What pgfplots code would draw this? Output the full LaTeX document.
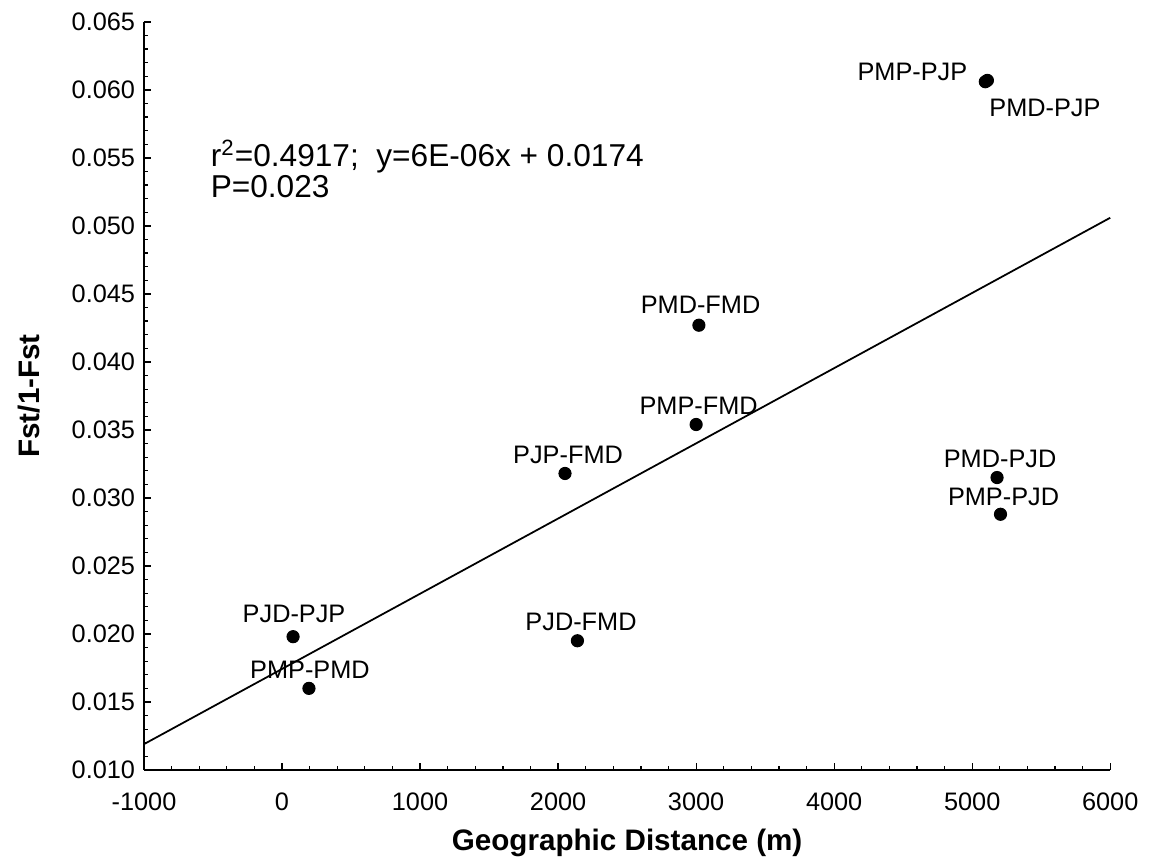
\documentclass[border=0pt]{standalone}
\usepackage{fontspec}
\setmainfont{Liberation Sans}
\usepackage{pgfplots}
\pgfplotsset{compat=1.18}

\begin{document}
\begin{tikzpicture}
\begin{axis}[
  name=ax,
  scale only axis,
  width=13.42cm, height=10.39cm,
  xmin=-1000, xmax=6000, ymin=0.010, ymax=0.065,
  axis lines*=left,
  axis line style={black, line width=0.6pt},
  xtick={-1000,0,...,6000},
  ytick={0.010,0.015,...,0.0651},
  scaled y ticks=false, scaled x ticks=false,
  minor x tick num=4, minor y tick num=4,
  tick align=inside,
  major tick length=0.1cm, minor tick length=0.05cm,
  tick style={black, line width=0.5pt},
  tick label style={font=\fontsize{10}{12}\selectfont},
  /pgf/number format/assume math mode=true,
  xticklabel style={/pgf/number format/set thousands separator={}, yshift=-0.2cm},
  yticklabel style={/pgf/number format/fixed, /pgf/number format/fixed zerofill, /pgf/number format/precision=3},
  xlabel={\textbf{Geographic Distance (m)}},
  ylabel={\textbf{Fst/1-Fst}},
  label style={font=\fontsize{11.7}{14}\selectfont},
  xlabel style={at={(axis description cs:0.5,-0.097)}, anchor=center},
  ylabel style={at={(axis description cs:-0.119,0.5)}, anchor=center},
  clip=false,
]
% regression line
\addplot[black, line width=0.7pt] coordinates {(-1000,0.0119) (6000,0.0506)};
% observed pairs
\addplot[only marks, mark=*, mark size=2.4pt, black] coordinates {
  (80,0.0198) (195,0.0160) (2140,0.0195) (2050,0.0318)
  (3000,0.0354) (3020,0.0427) (5180,0.0315) (5205,0.0288)
  (5095,0.0606) (5110,0.0607)
};
\begin{scope}[every node/.style={font=\fontsize{10}{12}\selectfont, inner sep=0pt}]
\node at (axis cs:87,0.0215) {PJD-PJP};
\node at (axis cs:202,0.0174) {PMP-PMD};
\node at (axis cs:2166,0.0209) {PJD-FMD};
\node at (axis cs:2072,0.0332) {PJP-FMD};
\node at (axis cs:3018,0.0368) {PMP-FMD};
\node at (axis cs:3032,0.0442) {PMD-FMD};
\node at (axis cs:5202,0.0329) {PMD-PJD};
\node at (axis cs:5227,0.0301) {PMP-PJD};
\node at (axis cs:4567,0.0613) {PMP-PJP};
\node at (axis cs:5527,0.0587) {PMD-PJP};
\end{scope}
\node[anchor=west, inner sep=0pt, font=\fontsize{12.5}{15}\selectfont] at (axis cs:-520,0.0551) {r\textsuperscript{2}=0.4917;\ \ y=6E-06x + 0.0174};
\node[anchor=west, inner sep=0pt, font=\fontsize{12.5}{15}\selectfont] at (axis cs:-520,0.0529) {P=0.023};
\end{axis}
\pgfresetboundingbox
\path (ax.south west) ++(-2.0cm,-1.306cm) rectangle ++(16cm,12cm);
\end{tikzpicture}
\end{document}
